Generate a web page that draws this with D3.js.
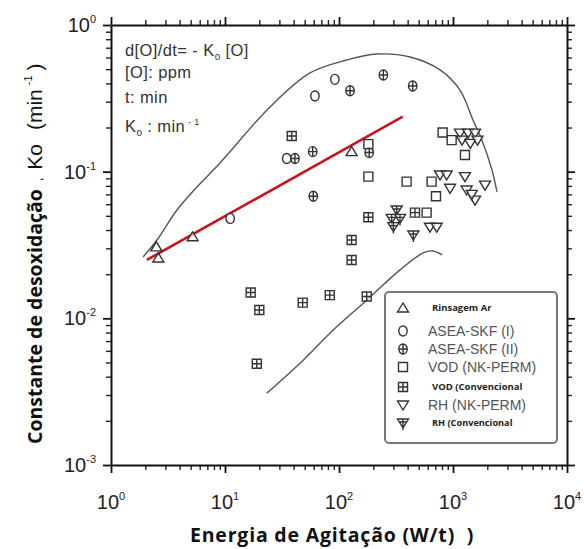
<!DOCTYPE html>
<html>
<head>
<meta charset="utf-8">
<script src="https://cdn.jsdelivr.net/npm/d3@7"></script>
<style>
  body { margin: 0; background: #fff; }
  svg { display: block; }
</style>
</head>
<body>
<script>
const width = 584;
const height = 549;
const margin = {top: 25, right: 17, bottom: 84, left: 111};

// data: [energia W/t, Ko min-1]
const rinsagemAr = [[2.5, 0.0307], [2.6, 0.0258], [5.2, 0.036], [129, 0.137]];
const aseaSkfI = [[11.1, 0.048], [34.8, 0.123], [61.5, 0.328], [92, 0.426]];
const aseaSkfII = [[41.1, 0.123], [58.8, 0.137], [59.5, 0.068], [125, 0.356], [184, 0.135], [245, 0.456], [443, 0.384]];
const vodNkPerm = [[181, 0.154], [181, 0.0925], [392, 0.0855], [649, 0.0855], [811, 0.185], [973, 0.164],
  [1273, 0.130], [709, 0.068], [587, 0.0526]];
const vodConv = [[16.8, 0.015], [20, 0.0114], [19, 0.0049], [48, 0.0128], [83, 0.0144], [175, 0.0141],
  [129, 0.0342], [129, 0.025], [181, 0.0489], [464, 0.0526], [38.5, 0.175]];
const rhNkPerm = [[1151, 0.183], [1355, 0.183], [1560, 0.183], [1200, 0.164], [1420, 0.156], [1640, 0.164],
  [769, 0.095], [880, 0.095], [942, 0.077], [1273, 0.0925], [1318, 0.075], [1560, 0.064], [1910, 0.081],
  [1460, 0.070], [628, 0.0418], [720, 0.0418]];
const rhConv = [[321, 0.0548], [290, 0.048], [343, 0.048], [300, 0.0422], [449, 0.037]];

const upperCurve = [[1.91, 0.0262], [2.53, 0.0342], [3.79, 0.0548], [5.68, 0.0787], [9.04, 0.1146], [24.8, 0.276],
  [55.7, 0.471], [117, 0.577], [215, 0.634], [420, 0.605], [769, 0.494], [1151, 0.36], [1497, 0.225],
  [1795, 0.164], [2198, 0.1027], [2432, 0.0727]];
const lowerCurve = [[23.2, 0.00308], [45.5, 0.00494], [89, 0.00833], [175, 0.0133], [343, 0.0214],
  [546, 0.0279], [668, 0.0288], [801, 0.0271]];
const redFit = [[2.06, 0.025], [362, 0.237]];

const xMajor = [1, 10, 100, 1000, 10000];
const yMajor = [0.001, 0.01, 0.1, 1];
const xExp = ['0', '1', '2', '3', '4'];
const yExp = ['-3', '-2', '-1', '0'];

const series = [
  {name: 'Rinsagem Ar', data: rinsagemAr, sym: 'triUp', bold: true, size: 9.5},
  {name: 'ASEA-SKF (I)', data: aseaSkfI, sym: 'circle', bold: false, size: 14},
  {name: 'ASEA-SKF (II)', data: aseaSkfII, sym: 'circleX', bold: false, size: 14},
  {name: 'VOD (NK-PERM)', data: vodNkPerm, sym: 'square', bold: false, size: 14},
  {name: 'VOD (Convencional', data: vodConv, sym: 'squareX', bold: true, size: 9.5},
  {name: 'RH (NK-PERM)', data: rhNkPerm, sym: 'triDown', bold: false, size: 14},
  {name: 'RH (Convencional', data: rhConv, sym: 'triDownX', bold: true, size: 9.2}
];

const x = d3.scaleLog().domain([1, 10000]).range([margin.left, width - margin.right]);
const y = d3.scaleLog().domain([0.001, 1]).range([height - margin.bottom, margin.top]);

const svg = d3.select('body').append('svg')
  .attr('width', width)
  .attr('height', height)
  .style('font-family', 'Arial, "Liberation Sans", sans-serif');

// ticks on all four sides, pointing out
const xMinor = x.ticks().filter(d => !xMajor.includes(d));
const yMinor = y.ticks().filter(d => !yMajor.some(m => Math.abs(m - d) < 1e-9));
const axes = [
  [d3.axisBottom(x), `translate(0,${height - margin.bottom})`, xMinor, xMajor],
  [d3.axisTop(x), `translate(0,${margin.top})`, xMinor, xMajor],
  [d3.axisLeft(y), `translate(${margin.left},0)`, yMinor, yMajor],
  [d3.axisRight(y), `translate(${width - margin.right},0)`, yMinor, yMajor]
];
axes.forEach(([ax, tr, minor, major]) => {
  const g1 = svg.append('g').attr('transform', tr)
    .call(ax.tickValues(minor).tickSize(5).tickSizeOuter(0).tickFormat(''));
  g1.select('.domain').remove();
  g1.selectAll('line').attr('stroke', '#222').attr('stroke-width', 1.4);
  const g2 = svg.append('g').attr('transform', tr)
    .call(ax.tickValues(major).tickSize(8).tickSizeOuter(0).tickFormat(''));
  g2.select('.domain').attr('stroke', '#111').attr('stroke-width', 2);
  g2.selectAll('line').attr('stroke', '#111').attr('stroke-width', 1.8);
});

// tick labels with superscripts
const xl = svg.append('g').selectAll('text').data(xMajor).enter().append('text')
  .attr('x', d => x(d)).attr('y', 509)
  .attr('text-anchor', 'middle')
  .attr('font-size', 20).attr('fill', '#222');
xl.append('tspan').text('10');
xl.append('tspan').attr('font-size', 11).attr('dy', -9).text((d, i) => xExp[i]);

const yl = svg.append('g').selectAll('text').data(yMajor).enter().append('text')
  .attr('x', 96).attr('y', d => y(d) + 7)
  .attr('text-anchor', 'end')
  .attr('font-size', 20).attr('fill', '#222');
yl.append('tspan').text('10');
yl.append('tspan').attr('font-size', 11).attr('dy', -9).text((d, i) => yExp[i]);

// axis titles
const yt = svg.append('text')
  .attr('transform', 'translate(42,444) rotate(-90)')
  .attr('fill', '#111');
yt.append('tspan').attr('font-family', '"Open Sans", sans-serif').attr('font-weight', 'bold')
  .attr('font-size', 19.5).text('Constante de desoxidação');
yt.append('tspan').attr('font-size', 12).attr('dx', 8).text(',');
yt.append('tspan').attr('font-size', 21).attr('dx', 8).text('Ko');
yt.append('tspan').attr('font-size', 21).attr('dx', 14).text('(min');
yt.append('tspan').attr('font-size', 11).attr('dx', 4).attr('dy', -10).text('-1');
yt.append('tspan').attr('font-size', 21).attr('dx', 5).attr('dy', 10).text(')');

svg.append('text')
  .attr('x', 190).attr('y', 542)
  .attr('font-family', '"Open Sans", sans-serif').attr('font-weight', 'bold')
  .attr('font-size', 19.5).attr('letter-spacing', 0.8).attr('fill', '#111')
  .attr('xml:space', 'preserve')
  .text('Energia de Agitação (W/t)  )');

// annotation
const note = svg.append('g').attr('fill', '#333').attr('font-size', 16.5).attr('letter-spacing', 0.4);
const n1 = note.append('text').attr('x', 125).attr('y', 56);
n1.append('tspan').text('d[O]/dt= - K');
n1.append('tspan').attr('font-size', 10).attr('dy', 4).text('o');
n1.append('tspan').attr('dy', -4).text(' [O]');
note.append('text').attr('x', 125).attr('y', 78).text('[O]: ppm');
note.append('text').attr('x', 125).attr('y', 103).text('t: min');
const n4 = note.append('text').attr('x', 125).attr('y', 132);
n4.append('tspan').text('K');
n4.append('tspan').attr('font-size', 10).attr('dy', 4).text('o');
n4.append('tspan').attr('dy', -4).text(' : min');
n4.append('tspan').attr('font-size', 9).attr('dy', -7).text(' - 1');

// envelope curves and fit line
const line = d3.line().x(d => x(d[0])).y(d => y(d[1])).curve(d3.curveCatmullRom);
svg.append('path').attr('d', line(upperCurve))
  .attr('fill', 'none').attr('stroke', '#555').attr('stroke-width', 1.4);
svg.append('path').attr('d', line(lowerCurve))
  .attr('fill', 'none').attr('stroke', '#555').attr('stroke-width', 1.4);
svg.append('path').attr('d', d3.line().x(d => x(d[0])).y(d => y(d[1]))(redFit))
  .attr('fill', 'none').attr('stroke', '#c4161c').attr('stroke-width', 2.6);

// marker shapes
const symPath = {
  triUp: 'M0,-5L5.5,4L-5.5,4Z',
  circle: 'M0,-5A4.2,5 0 1,1 0,5A4.2,5 0 1,1 0,-5Z',
  circleX: 'M0,-5A4.2,5 0 1,1 0,5A4.2,5 0 1,1 0,-5ZM-4.2,0H4.2M0,-5V5',
  square: 'M-4.5,-4.5H4.5V4.5H-4.5Z',
  squareX: 'M-4.5,-4.5H4.5V4.5H-4.5ZM-4.5,0H4.5M0,-4.5V4.5',
  triDown: 'M-5.5,-4L5.5,-4L0,5Z',
  triDownX: 'M-5.5,-4L5.5,-4L0,5ZM-4,-1H4M0,-4V7'
};

series.forEach(s => {
  svg.append('g').selectAll('path').data(s.data).enter().append('path')
    .attr('transform', d => `translate(${x(d[0])},${y(d[1])})`)
    .attr('d', symPath[s.sym])
    .attr('fill', '#fff').attr('fill-opacity', 0.6)
    .attr('stroke', '#333').attr('stroke-width', 1.4);
});

// legend
const lg = svg.append('g');
lg.append('rect').attr('x', 385).attr('y', 292).attr('width', 172).attr('height', 151)
  .attr('rx', 4).attr('fill', '#fff').attr('stroke', '#777').attr('stroke-width', 2);
const rowsY = [308, 331, 349, 367, 387, 405, 423];
const item = lg.selectAll('g.item').data(series).enter().append('g')
  .attr('transform', (d, i) => `translate(403,${rowsY[i]})`);
item.append('path').attr('d', d => symPath[d.sym])
  .attr('fill', 'none').attr('stroke', '#333').attr('stroke-width', 1.4);
item.append('text')
  .attr('x', d => d.bold ? 29 : 25).attr('y', d => d.size * 0.36)
  .attr('font-family', d => d.bold ? '"Open Sans", sans-serif' : 'Arial, "Liberation Sans", sans-serif')
  .attr('font-weight', d => d.bold ? 'bold' : 'normal')
  .attr('font-size', d => d.size)
  .attr('fill', d => d.bold ? '#222' : '#555')
  .text(d => d.name);
</script>
</body>
</html>
